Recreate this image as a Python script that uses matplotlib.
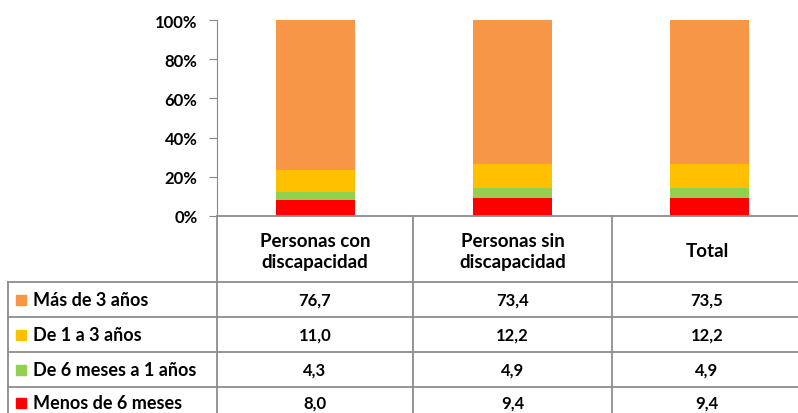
import matplotlib.pyplot as plt
import numpy as np

plt.rcParams['font.family'] = ['Lato', 'DejaVu Sans']
plt.rcParams['font.weight'] = 'bold'

categories = ['Personas con\ndiscapacidad', 'Personas sin\ndiscapacidad', 'Total']
series = ['Más de 3 años', 'De 1 a 3 años', 'De 6 meses a 1 años', 'Menos de 6 meses']
colors = ['#F79646', '#FFC000', '#92D050', '#FF0000']
mas_3 = [76.7, 73.4, 73.5]
de_1_3 = [11.0, 12.2, 12.2]
de_6m_1 = [4.3, 4.9, 4.9]
menos_6m = [8.0, 9.4, 9.4]

W, H = 798, 414
fig = plt.figure(figsize=(W / 100, H / 100), dpi=100)

# chart area in pixels
x0, x1, ytop, ybot = 217, 808, 21, 217
ax = fig.add_axes([x0 / W, 1 - ybot / H, (x1 - x0) / W, (ybot - ytop) / H])

x = np.arange(len(categories)) + 0.5
width = 0.4
vals = [menos_6m, de_6m_1, de_1_3, mas_3]
cols = colors[::-1]
bottom = np.zeros(len(categories))
for v, c in zip(vals, cols):
    ax.bar(x, v, width, bottom=bottom, color=c)
    bottom += np.array(v)

ax.set_xlim(0, 3)
ax.set_ylim(0, 100)
ax.set_yticks([0, 20, 40, 60, 80, 100])
ax.set_yticklabels(['0%', '20%', '40%', '60%', '80%', '100%'], fontsize=12, fontweight='bold')
ax.set_xticks([])
for s in ['top', 'right', 'bottom']:
    ax.spines[s].set_visible(False)
ax.spines['left'].set_color('#888888')
ax.tick_params(axis='y', colors='#888888', length=6, labelcolor='black', pad=8)

# table drawn in pixel coords
tb = fig.add_axes([0, 0, 1, 1], facecolor='none')
tb.set_xlim(0, W)
tb.set_ylim(H, 0)
tb.axis('off')
gc = '#8c8c8c'
lw = 1.3
col_x = [217, 413, 612, 808]
row_y = [217, 283, 318, 353, 388, 423]
tb.plot([217, W], [217, 217], color=gc, lw=lw)
for yy in row_y[1:-1]:
    tb.plot([8, W], [yy, yy], color=gc, lw=lw)
tb.plot([8, 8], [283, H], color=gc, lw=lw)
for xx in col_x[:-1]:
    tb.plot([xx, xx], [217, H], color=gc, lw=lw)

centers = [(col_x[i] + col_x[i + 1]) / 2 for i in range(3)]
centers[2] = 707
for cx, cat in zip(centers, categories):
    tb.text(cx, 252, cat, ha='center', va='center', fontsize=13.5, fontweight='bold', linespacing=1.3)

table_vals = [mas_3, de_1_3, de_6m_1, menos_6m]
for i, (name, c, v) in enumerate(zip(series, colors, table_vals)):
    yc = (row_y[i + 1] + row_y[i + 2]) / 2
    if i == 3:
        yc = 404
    tb.add_patch(plt.Rectangle((16, yc - 5), 10, 10, color=c))
    tb.text(33, yc, name, ha='left', va='center', fontsize=13, fontweight='bold')
    for cx, val in zip(centers, v):
        tb.text(cx, yc, f'{val:.1f}'.replace('.', ','), ha='center', va='center',
                fontsize=12, fontweight='bold')

fig.savefig('out.png', dpi=100)
